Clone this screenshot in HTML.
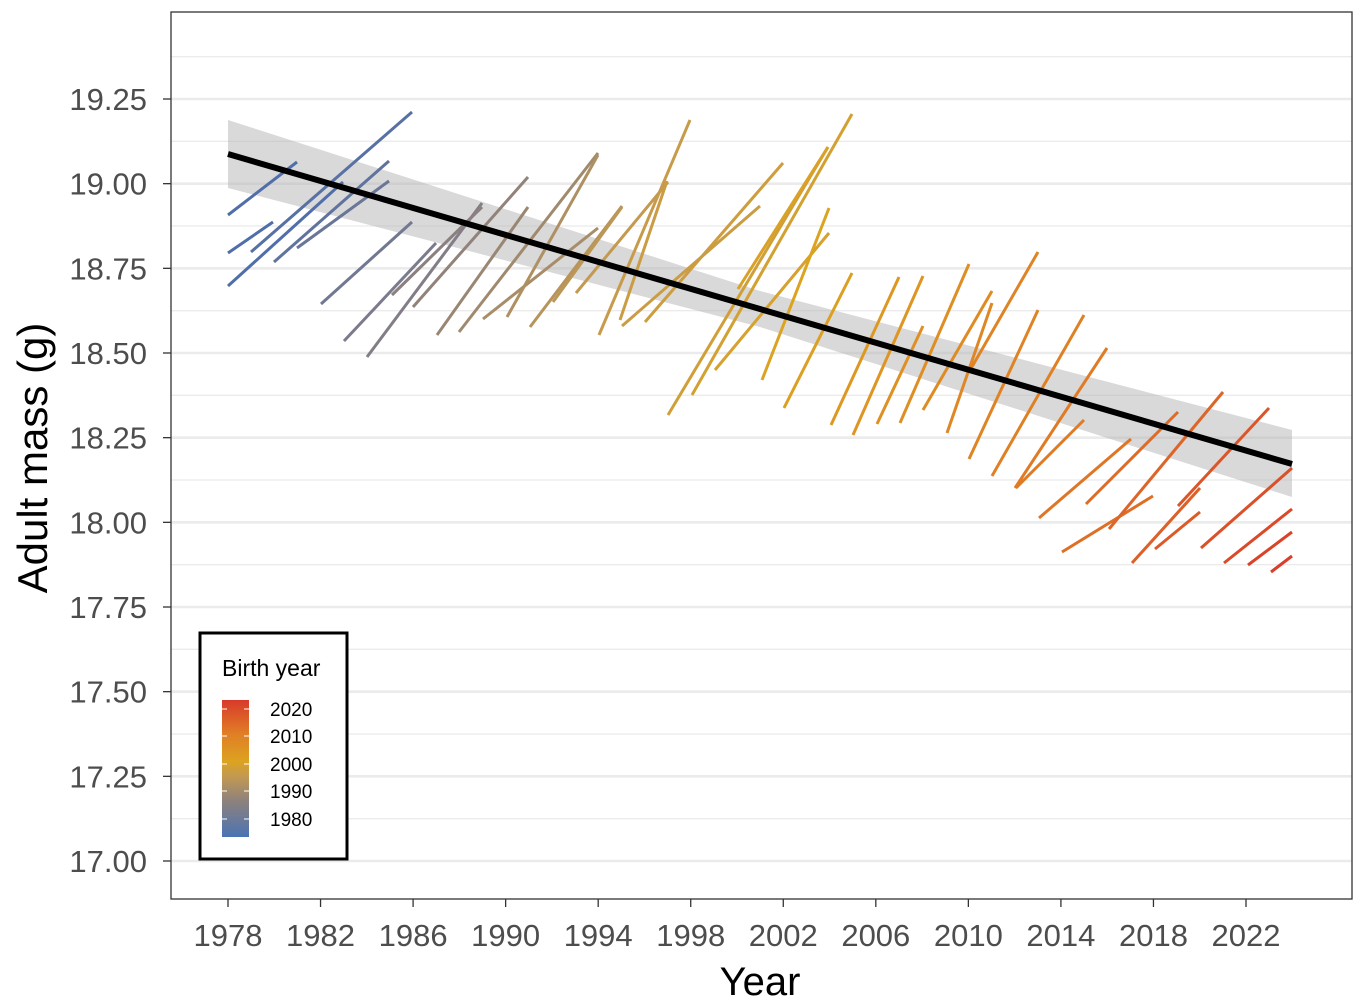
<!DOCTYPE html>
<html><head><style>
html,body{margin:0;padding:0;background:#fff;}
svg{display:block;font-family:"Liberation Sans",Arial,sans-serif;}
</style></head><body>
<svg id="s" width="1360" height="1008" viewBox="0 0 1360 1008" xmlns="http://www.w3.org/2000/svg">
<rect x="0" y="0" width="1360" height="1008" fill="#fff"/>
<g id="grid"></g>
<polygon points="228,120 760,291 1292,430 1292,497 760,327 228,188" fill="#b3b3b3" fill-opacity="0.5"/>
<g id="segs" stroke-width="3" stroke-linecap="butt"></g>
<line x1="228" y1="154" x2="1292" y2="464" stroke="#000" stroke-width="6"/>
<rect x="171" y="12" width="1181" height="887" fill="none" stroke="#333" stroke-width="1.3"/>
<g id="ticks" fill="#4d4d4d" font-size="31"></g>
<text x="760" y="995" font-size="40" text-anchor="middle" fill="#000">Year</text>
<text transform="translate(47,458) rotate(-90)" font-size="42" text-anchor="middle" fill="#000">Adult mass (g)</text>
<rect x="200" y="633" width="147" height="226" fill="#fff" stroke="#000" stroke-width="3"/>
<text x="222" y="676" font-size="23" fill="#000">Birth year</text>
<defs><linearGradient id="lg" x1="0" y1="1" x2="0" y2="0">
<stop offset="0" stop-color="#4a74b4"/><stop offset="0.25" stop-color="#8a8080"/><stop offset="0.45" stop-color="#c49a50"/><stop offset="0.55" stop-color="#dca320"/><stop offset="0.75" stop-color="#e07f25"/><stop offset="1" stop-color="#d83a2a"/></linearGradient></defs>
<rect x="222" y="700" width="27" height="137" fill="url(#lg)"/>
<g stroke="#fff" stroke-width="1"><line x1="222" x2="227" y1="709" y2="709"/><line x1="244" x2="249" y1="709" y2="709"/><line x1="222" x2="227" y1="736" y2="736"/><line x1="244" x2="249" y1="736" y2="736"/><line x1="222" x2="227" y1="764" y2="764"/><line x1="244" x2="249" y1="764" y2="764"/><line x1="222" x2="227" y1="791" y2="791"/><line x1="244" x2="249" y1="791" y2="791"/><line x1="222" x2="227" y1="819" y2="819"/><line x1="244" x2="249" y1="819" y2="819"/></g>
<g font-size="19" fill="#000"><text x="270" y="716">2020</text><text x="270" y="743">2010</text><text x="270" y="771">2000</text><text x="270" y="798">1990</text><text x="270" y="826">1980</text></g>
</svg>
<script>
var NS="http://www.w3.org/2000/svg";
function el(p,t,a,txt){var e=document.createElementNS(NS,t);for(var k in a)e.setAttribute(k,a[k]);if(txt)e.textContent=txt;p.appendChild(e);return e;}
var g=document.getElementById('grid'),tk=document.getElementById('ticks');
var step=(861-99)/9;
for(var i=0;i<10;i++){var y=99+i*step;el(g,'line',{x1:171,x2:1352,y1:y,y2:y,stroke:'#ebebeb','stroke-width':2.6});
var v=(19.25-i*0.25).toFixed(2);el(tk,'text',{x:147,y:y+11,'text-anchor':'end'},v);
el(tk,'line',{x1:163,x2:171,y1:y,y2:y,stroke:'#333','stroke-width':1.3});}
for(var i=-1;i<9;i++){var y=99+(i+0.5)*step;el(g,'line',{x1:171,x2:1352,y1:y,y2:y,stroke:'#ebebeb','stroke-width':1.3});}
var dx=(1246-228)/44;
for(var k=0;k<12;k++){var x=228+k*4*dx;el(tk,'text',{x:x,y:946,'text-anchor':'middle'},String(1978+4*k));
el(tk,'line',{x1:x,x2:x,y1:899,y2:907,stroke:'#333','stroke-width':1.3});}
var stops=[[228,[80,110,170]],[390,[138,128,128]],[575,[196,154,80]],[760,[220,163,32]],[1000,[224,127,37]],[1292,[216,58,42]]];
function col(x){for(var i=0;i<stops.length-1;i++){var a=stops[i],b=stops[i+1];if(x<=b[0]){var t=Math.max(0,(x-a[0])/(b[0]-a[0]));return 'rgb('+a[1].map(function(c,j){return Math.round(c+(b[1][j]-c)*t)}).join(',')+')';}}return 'rgb(216,58,42)';}
var S=[[228,215,297,162],[228,253,273,222],[228,286,343,182],[251,252,412,112],[274,262,389,161],[297,248,389,181],[321,304,412,222],[344,341,436,243],[367,357,482,203],[392,295,482,207],[413,307,528,177],[437,335,528,207],[459,332,598,153],[483,319,598,228],[507,317,598,155],[530,327,622,206],[553,302,622,207],[576,293,668,182],[599,335,690,120],[620,320,667,181],[645,322,783,163],[622,326,760,206],[668,415,828,147],[692,395,852,114],[738,289,828,147],[715,370,829,233],[762,380,829,208],[784,408,852,273],[831,425,899,277],[853,435,923,276],[877,424,923,326],[900,423,969,264],[923,410,992,291],[947,433,992,303],[969,372,1038,252],[969,459,1038,310],[992,476,1084,315],[1015,488,1107,348],[1016,488,1084,420],[1039,518,1131,439],[1062,552,1153,496],[1086,504,1178,412],[1109,529,1223,392],[1132,563,1200,488],[1155,549,1200,512],[1178,506,1269,408],[1201,548,1292,468],[1224,563,1292,509],[1248,565,1292,532],[1271,572,1292,556]];
var sg=document.getElementById('segs');
S.forEach(function(s){el(sg,'line',{x1:s[0],y1:s[1],x2:s[2],y2:s[3],stroke:col(s[0])});});
</script>
</body></html>
